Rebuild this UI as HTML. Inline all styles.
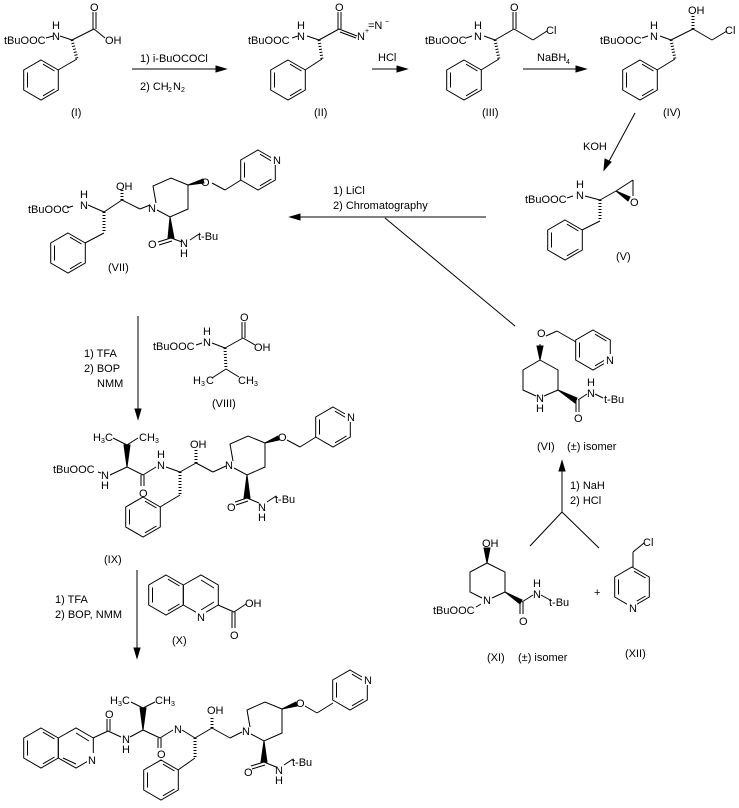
<!DOCTYPE html>
<html><head><meta charset="utf-8"><style>
html,body{margin:0;padding:0;background:#fff}
svg{display:block}
text{font-family:"Liberation Sans",Arial,sans-serif;font-size:11px;fill:#000}
.s{font-size:7px}
</style></head><body>
<svg width="739" height="808" viewBox="0 0 739 808" xmlns="http://www.w3.org/2000/svg">
<defs>
<g id="bz" fill="none" stroke="#000" stroke-width="1">
<polygon points="0,-20 17.3,-10 17.3,10 0,20 -17.3,10 -17.3,-10"/>
<line x1="-13.5" y1="-7.5" x2="-13.5" y2="7.5"/>
<line x1="2" y1="-15.8" x2="13.5" y2="-9"/>
<line x1="2" y1="15.8" x2="13.5" y2="9"/>
</g>
<g id="pip" fill="none" stroke="#000" stroke-width="1">
<polyline points="4,-4 1,-21 19,-29 36,-22 36,2 18,10 5,3"/>
</g>
</defs>
<g fill="none" stroke="#000" stroke-width="1">
<!-- I -->
<use href="#bz" x="41" y="80"/>
<line x1="60" y1="36" x2="72" y2="40"/><line x1="72" y1="40" x2="94" y2="29"/>
<line x1="94" y1="29" x2="105" y2="38"/><line x1="93" y1="29" x2="93" y2="12"/><line x1="96" y1="29" x2="96" y2="12"/>
<line x1="72" y1="40" x2="77" y2="59" stroke-width="3" stroke-dasharray="1,2"/><line x1="77" y1="59" x2="58" y2="70"/>
<line x1="46" y1="38" x2="53" y2="36"/>
<!-- arrow1 -->
<line x1="132" y1="69" x2="222" y2="69"/><polygon points="226,69 216,66 216,72" fill="#000"/>
<!-- II -->
<use href="#bz" x="288" y="80"/>
<line x1="307" y1="36" x2="319" y2="40"/><line x1="319" y1="40" x2="339" y2="29"/>
<line x1="338" y1="29" x2="338" y2="12"/><line x1="341" y1="29" x2="341" y2="12"/>
<line x1="339" y1="29" x2="357" y2="36"/><line x1="340" y1="32" x2="356" y2="38"/>
<line x1="319" y1="40" x2="322" y2="59" stroke-width="3" stroke-dasharray="1,2"/><line x1="322" y1="59" x2="305" y2="70"/>
<line x1="292" y1="38" x2="298" y2="36"/>
<!-- HCl arrow -->
<line x1="372" y1="69" x2="403" y2="69"/><polygon points="407,69 397,66 397,72" fill="#000"/>
<!-- III -->
<use href="#bz" x="464" y="80"/>
<line x1="484" y1="36" x2="495" y2="40"/><line x1="495" y1="40" x2="514" y2="29"/>
<line x1="513" y1="29" x2="513" y2="12"/><line x1="516" y1="29" x2="516" y2="12"/>
<line x1="514" y1="29" x2="533" y2="40"/><line x1="533" y1="40" x2="547" y2="31"/>
<line x1="495" y1="40" x2="499" y2="59" stroke-width="3" stroke-dasharray="1,2"/><line x1="499" y1="59" x2="481" y2="70"/>
<line x1="466" y1="38" x2="472" y2="36"/>
<!-- NaBH4 arrow -->
<line x1="523" y1="69" x2="582" y2="69"/><polygon points="586,69 576,66 576,72" fill="#000"/>
<!-- IV -->
<use href="#bz" x="640" y="80"/>
<line x1="660" y1="36" x2="671" y2="40"/><line x1="671" y1="40" x2="693" y2="29"/>
<line x1="693" y1="29" x2="693" y2="15" stroke-width="3" stroke-dasharray="1,2"/>
<line x1="693" y1="29" x2="712" y2="40"/><line x1="712" y1="40" x2="727" y2="31"/>
<line x1="671" y1="40" x2="675" y2="59" stroke-width="3" stroke-dasharray="1,2"/><line x1="675" y1="59" x2="657" y2="70"/>
<line x1="642" y1="38" x2="648" y2="36"/>
<!-- KOH arrow -->
<line x1="635" y1="113" x2="607" y2="165"/><polygon points="604,170 605,159 611,162" fill="#000"/>
<!-- V -->
<use href="#bz" x="565" y="240"/>
<line x1="585" y1="196" x2="600" y2="200"/><line x1="600" y1="200" x2="616" y2="191"/>
<polygon points="616,191 630,197 628,201" fill="#000"/>
<line x1="616" y1="191" x2="633" y2="180"/><line x1="633" y1="180" x2="633" y2="196"/>
<line x1="600" y1="200" x2="600" y2="221" stroke-width="3" stroke-dasharray="1,2"/><line x1="600" y1="221" x2="582" y2="230"/>
<line x1="567" y1="198" x2="573" y2="196"/>
<!-- LiCl arrow -->
<line x1="294" y1="217" x2="486" y2="217"/><polygon points="290,217 300,214 300,220" fill="#000"/>
<line x1="385" y1="218" x2="515" y2="326"/>
<!-- VII -->
<use href="#bz" x="68" y="253"/>
<line x1="88" y1="205" x2="104" y2="212"/><line x1="104" y1="212" x2="122" y2="200"/>
<line x1="122" y1="200" x2="122" y2="190" stroke-width="3" stroke-dasharray="1,2"/>
<line x1="122" y1="200" x2="140" y2="209"/><line x1="140" y1="209" x2="150" y2="205"/>
<line x1="104" y1="212" x2="104" y2="233" stroke-width="3" stroke-dasharray="1,2"/><line x1="104" y1="233" x2="85" y2="243"/>
<line x1="67" y1="208" x2="73" y2="206"/>
<use href="#pip" x="152" y="207"/>
<polygon points="188,185 203,179 204,183" fill="#000"/>
<line x1="212" y1="183" x2="225" y2="190"/><line x1="225" y1="190" x2="241" y2="180"/>
<use href="#bz" x="258" y="170"/>
<polygon points="170,217 168,238 174,238" fill="#000"/>
<line x1="171" y1="238" x2="158" y2="242"/><line x1="172" y1="241" x2="159" y2="245"/>
<line x1="171" y1="238" x2="182" y2="242"/><line x1="190" y1="240" x2="199" y2="234"/>
<!-- arrow down 1 -->
<line x1="138" y1="316" x2="138" y2="414"/><polygon points="138,419 135,409 141,409" fill="#000"/>
<!-- VIII -->
<line x1="196" y1="345" x2="202" y2="343"/>
<line x1="212" y1="343" x2="225" y2="348"/><line x1="225" y1="348" x2="243" y2="338"/>
<line x1="242" y1="338" x2="242" y2="322"/><line x1="245" y1="338" x2="245" y2="322"/>
<line x1="243" y1="338" x2="255" y2="345"/>
<line x1="225" y1="348" x2="226" y2="369" stroke-width="3" stroke-dasharray="1,2"/>
<line x1="226" y1="369" x2="212" y2="378"/><line x1="226" y1="369" x2="239" y2="377"/>
<!-- IX -->
<line x1="98" y1="472" x2="101" y2="473"/>
<line x1="110" y1="475" x2="127" y2="467"/>
<polygon points="127,467 124,445 130,445" fill="#000"/>
<line x1="127" y1="445" x2="113" y2="438"/><line x1="127" y1="445" x2="138" y2="438"/>
<line x1="127" y1="467" x2="143" y2="475"/>
<line x1="141" y1="475" x2="141" y2="486"/><line x1="144" y1="475" x2="144" y2="486"/>
<line x1="143" y1="475" x2="156" y2="467"/>
<line x1="166" y1="467" x2="180" y2="472"/><line x1="180" y1="472" x2="196" y2="463"/>
<line x1="196" y1="463" x2="196" y2="450" stroke-width="3" stroke-dasharray="1,2"/>
<line x1="196" y1="463" x2="213" y2="472"/><line x1="213" y1="472" x2="226" y2="466"/>
<line x1="180" y1="472" x2="180" y2="495" stroke-width="3" stroke-dasharray="1,2"/><line x1="180" y1="495" x2="160" y2="507"/>
<use href="#bz" x="143" y="517"/>
<use href="#pip" x="229" y="465"/>
<polygon points="265,443 278,436 279,440" fill="#000"/>
<line x1="287" y1="440" x2="300" y2="447"/><line x1="300" y1="447" x2="316" y2="437"/>
<use href="#bz" x="333" y="427"/>
<polygon points="247,475 244,498 250,498" fill="#000"/>
<line x1="247" y1="498" x2="235" y2="502"/><line x1="248" y1="501" x2="236" y2="505"/>
<line x1="247" y1="498" x2="259" y2="503"/><line x1="267" y1="502" x2="276" y2="496"/>
<!-- arrow down 2 -->
<line x1="137" y1="570" x2="137" y2="653"/><polygon points="137,658 134,648 140,648" fill="#000"/>
<!-- X -->
<use href="#bz" x="166" y="595"/>
<polygon points="183.3,585 201,575 218.3,585 218.3,605 201,615 183.3,605" />
<line x1="201" y1="580" x2="214" y2="588"/><line x1="201" y1="610" x2="214" y2="602"/>
<line x1="218" y1="605" x2="234" y2="612"/><line x1="234" y1="612" x2="246" y2="604"/>
<line x1="232" y1="612" x2="232" y2="628"/><line x1="235" y1="612" x2="235" y2="628"/>
<!-- final -->
<use href="#bz" x="41" y="748"/>
<polygon points="58.3,738 76,728 93.3,738 93.3,758 76,768 58.3,758"/>
<line x1="76" y1="733" x2="89" y2="741"/><line x1="63" y1="758" x2="76" y2="764"/>
<line x1="93" y1="738" x2="108" y2="731"/>
<line x1="107" y1="731" x2="107" y2="719"/><line x1="110" y1="731" x2="110" y2="719"/>
<line x1="108" y1="731" x2="121" y2="737"/>
<line x1="130" y1="737" x2="143" y2="730"/>
<polygon points="143,730 140,708 146,708" fill="#000"/>
<line x1="143" y1="708" x2="131" y2="702"/><line x1="143" y1="708" x2="155" y2="702"/>
<line x1="143" y1="730" x2="160" y2="738"/>
<line x1="158" y1="738" x2="158" y2="748"/><line x1="161" y1="738" x2="161" y2="748"/>
<line x1="160" y1="738" x2="173" y2="730"/>
<line x1="182" y1="730" x2="195" y2="738"/><line x1="195" y1="738" x2="212" y2="728"/>
<line x1="212" y1="728" x2="212" y2="716" stroke-width="3" stroke-dasharray="1,2"/>
<line x1="212" y1="728" x2="230" y2="738"/><line x1="230" y1="738" x2="242" y2="732"/>
<line x1="195" y1="738" x2="195" y2="758" stroke-width="3" stroke-dasharray="1,2"/><line x1="195" y1="758" x2="178" y2="770"/>
<use href="#bz" x="161" y="780"/>
<use href="#pip" x="246" y="731"/>
<polygon points="282,709 296,702 297,706" fill="#000"/>
<line x1="305" y1="706" x2="317" y2="713"/><line x1="317" y1="713" x2="333" y2="703"/>
<use href="#bz" x="350" y="690"/>
<polygon points="264,741 261,762 267,762" fill="#000"/>
<line x1="264" y1="762" x2="251" y2="766"/><line x1="265" y1="765" x2="252" y2="769"/>
<line x1="264" y1="762" x2="276" y2="767"/><line x1="284" y1="765" x2="293" y2="759"/>
<!-- VI -->
<polyline points="540,344 540,360 523,370 523,390 536,396"/>
<polyline points="544,396 558,390 558,370 540,360"/>
<polygon points="540,360 537,346 543,346" fill="#000"/>
<line x1="546" y1="336" x2="557" y2="331"/><line x1="557" y1="331" x2="576" y2="342"/>
<use href="#bz" x="593" y="350"/>
<polygon points="558,390 577,398 575,403" fill="#000"/>
<line x1="576" y1="400" x2="576" y2="412"/><line x1="579" y1="400" x2="579" y2="412"/>
<line x1="578" y1="400" x2="587" y2="394"/><line x1="595" y1="394" x2="603" y2="398"/>
<!-- arrow up -->
<line x1="562" y1="512" x2="562" y2="466"/><polygon points="562,461 559,471 565,471" fill="#000"/>
<line x1="562" y1="512" x2="530" y2="546"/><line x1="562" y1="512" x2="599" y2="548"/>
<!-- XI -->
<polygon points="487,563 484,548 490,548" fill="#000"/>
<polyline points="487,563 505,572 505,592"/>
<polyline points="487,563 470,572 470,592 482,598"/>
<line x1="492" y1="598" x2="505" y2="592"/>
<line x1="481" y1="604" x2="476" y2="607"/>
<polygon points="505,592 522,600 520,604" fill="#000"/>
<line x1="520" y1="602" x2="520" y2="614"/><line x1="523" y1="602" x2="523" y2="614"/>
<line x1="522" y1="602" x2="533" y2="595"/><line x1="541" y1="595" x2="550" y2="600"/>
<!-- XII -->
<line x1="633" y1="567" x2="633" y2="552"/><line x1="633" y1="552" x2="644" y2="543"/>
<use href="#bz" x="632" y="587"/>
</g>
<g>
<!-- white boxes for N in rings -->
<rect x="271" y="153" width="10" height="12" fill="#fff"/>
<rect x="345" y="410" width="10" height="12" fill="#fff"/>
<rect x="362" y="673" width="10" height="12" fill="#fff"/>
<rect x="604" y="354" width="10" height="12" fill="#fff"/>
<rect x="627" y="601" width="10" height="12" fill="#fff"/>
<rect x="196" y="610" width="10" height="12" fill="#fff"/>
<rect x="87" y="753" width="10" height="12" fill="#fff"/>
</g>
<!-- text -->
<text x="4" y="44">tBuOOC</text><text x="52" y="40">N</text><text x="52" y="29">H</text>
<text x="90" y="11">O</text><text x="105" y="44">OH</text><text x="71" y="116">(I)</text>
<text x="140" y="62">1) i-BuOCOCl</text><text x="140" y="90">2) CH</text><text class="s" x="168" y="92">2</text><text x="173" y="90">N</text><text class="s" x="181" y="92">2</text>
<text x="248" y="44">tBuOOC</text><text x="297" y="40">N</text><text x="297" y="29">H</text>
<text x="335" y="11">O</text><text x="357" y="40">N</text><text class="s" x="365" y="33">+</text><text x="368" y="29">=N</text><text class="s" x="385" y="24">−</text>
<text x="314" y="116">(II)</text><text x="378" y="61">HCl</text>
<text x="425" y="44">tBuOOC</text><text x="474" y="40">N</text><text x="474" y="29">H</text>
<text x="510" y="11">O</text><text x="546" y="34">Cl</text><text x="482" y="116">(III)</text>
<text x="537" y="61">NaBH</text><text class="s" x="566" y="64">4</text>
<text x="600" y="44">tBuOOC</text><text x="650" y="40">N</text><text x="650" y="29">H</text>
<text x="688" y="14">OH</text><text x="725" y="34">Cl</text><text x="663" y="116">(IV)</text>
<text x="583" y="150">KOH</text>
<text x="525" y="203">tBuOOC</text><text x="576" y="199">N</text><text x="576" y="188">H</text><text x="630" y="206">O</text><text x="616" y="260">(V)</text>
<text x="333" y="194">1) LiCl</text><text x="333" y="209">2) Chromatography</text>
<text x="28" y="213">tBuOOC</text><text x="80" y="209">N</text><text x="80" y="198">H</text>
<text x="116" y="190">OH</text><text x="148" y="212">N</text><text x="201" y="186">O</text><text x="273" y="164">N</text>
<text x="148" y="248">O</text><text x="180" y="247">N</text><text x="180" y="257">H</text><text x="198" y="240">t-Bu</text>
<text x="108" y="271">(VII)</text>
<text x="84" y="357">1) TFA</text><text x="84" y="372">2) BOP</text><text x="97" y="387">NMM</text>
<text x="153" y="350">tBuOOC</text><text x="203" y="346">N</text><text x="203" y="335">H</text>
<text x="240" y="321">O</text><text x="254" y="351">OH</text>
<text x="193" y="384">H</text><text class="s" x="201" y="386">3</text><text x="206" y="384">C</text><text x="238" y="384">CH</text><text class="s" x="254" y="386">3</text>
<text x="212" y="407">(VIII)</text>
<text x="93" y="441">H</text><text class="s" x="101" y="443">3</text><text x="105" y="441">C</text><text x="139" y="441">CH</text><text class="s" x="155" y="443">3</text>
<text x="53" y="473">tBuOOC</text><text x="101" y="479">N</text><text x="101" y="489">H</text><text x="139" y="497">O</text>
<text x="157" y="469">N</text><text x="157" y="458">H</text><text x="190" y="448">OH</text><text x="225" y="469">N</text><text x="278" y="441">O</text>
<text x="347" y="421">N</text>
<text x="227" y="511">O</text><text x="258" y="511">N</text><text x="258" y="521">H</text><text x="275" y="503">t-Bu</text>
<text x="104" y="563">(IX)</text>
<text x="55" y="603">1) TFA</text><text x="55" y="618">2) BOP, NMM</text>
<text x="197" y="621">N</text><text x="245" y="607">OH</text><text x="230" y="639">O</text><text x="172" y="644">(X)</text>
<text x="88" y="764">N</text><text x="105" y="718">O</text><text x="122" y="743">N</text><text x="122" y="753">H</text>
<text x="110" y="704">H</text><text class="s" x="118" y="706">3</text><text x="122" y="704">C</text><text x="155" y="704">CH</text><text class="s" x="171" y="706">3</text>
<text x="157" y="758">O</text><text x="174" y="733">N</text><text x="207" y="714">OH</text><text x="242" y="735">N</text><text x="296" y="707">O</text>
<text x="364" y="684">N</text>
<text x="244" y="776">O</text><text x="275" y="774">N</text><text x="275" y="784">H</text><text x="292" y="766">t-Bu</text>
<text x="537" y="337">O</text><text x="536" y="402">N</text><text x="536" y="412">H</text><text x="606" y="364">N</text>
<text x="574" y="422">O</text><text x="587" y="397">N</text><text x="587" y="386">H</text><text x="604" y="403">t-Bu</text>
<text x="537" y="450">(VI)</text><text x="567" y="450">(±) isomer</text>
<text x="570" y="489">1) NaH</text><text x="570" y="504">2) HCl</text>
<text x="482" y="547">OH</text><text x="483" y="604">N</text><text x="433" y="614">tBuOOC</text>
<text x="519" y="625">O</text><text x="533" y="598">N</text><text x="533" y="587">H</text><text x="549" y="606">t-Bu</text>
<text x="594" y="596">+</text><text x="643" y="546">Cl</text><text x="629" y="612">N</text>
<text x="487" y="661">(XI)</text><text x="518" y="661">(±) isomer</text><text x="625" y="657">(XII)</text>
</svg>
</body></html>
